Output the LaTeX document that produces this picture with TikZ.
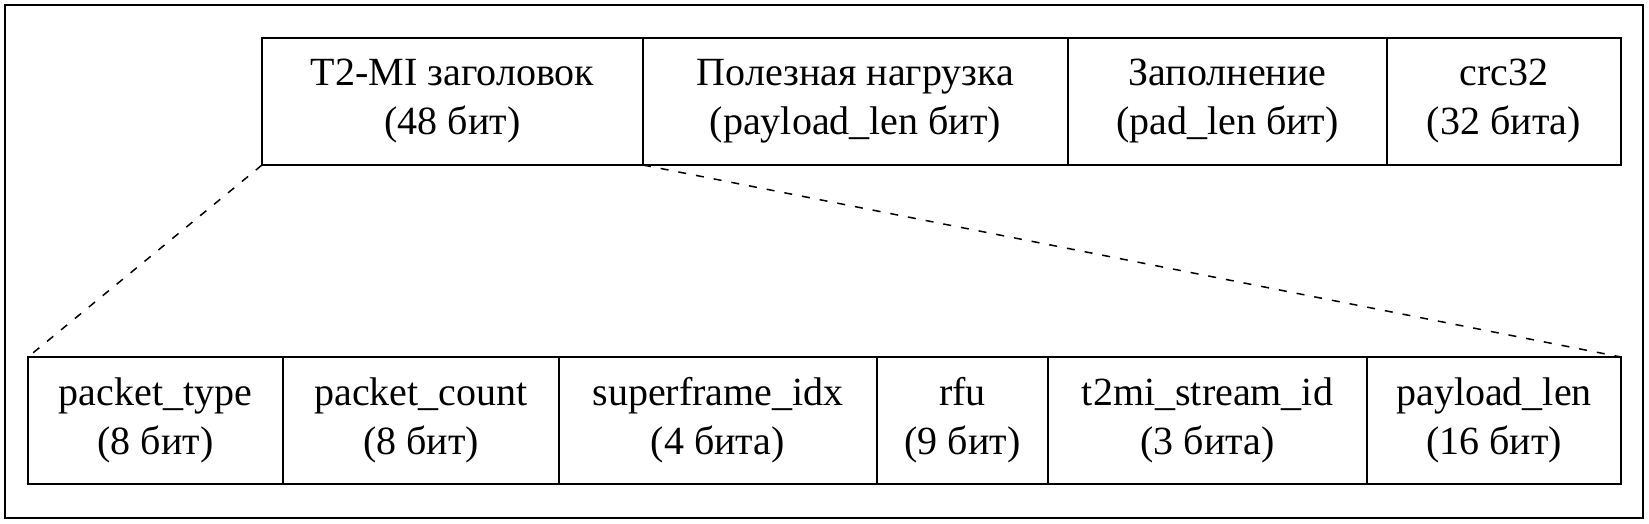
\documentclass[tikz,border=0pt]{standalone}
\usepackage{fontspec}
\setmainfont{Liberation Serif}
\usepackage{tikz}
\tikzset{field/.style={draw=black, line width=2pt, inner sep=0pt, outer sep=0pt,
    minimum height=127pt, align=center, font=\fontsize{40}{49}\selectfont}}
\tikzset{zoomline/.style={line width=1.5pt, dash pattern=on 8pt off 10pt}}

\begin{document}
\begin{tikzpicture}[x=1pt,y=-1pt]

    \useasboundingbox (0,0) rectangle (1649,524);
    \draw[line width=1.5pt] (5,5) rectangle (1643,518);

    % T2-MI packet
    \node[field, minimum width=381pt] (hdr) at (452.5,101.5) {T2-MI заголовок\\(48 бит)};
    \node[field, minimum width=425pt] (pay) at (855.5,101.5) {Полезная нагрузка\\(payload\_len бит)};
    \node[field, minimum width=319pt] (pad) at (1227.5,101.5) {Заполнение\\(pad\_len бит)};
    \node[field, minimum width=234pt] (crc) at (1504,101.5) {crc32\\(32 бита)};

    % header fields
    \node[field, minimum width=255pt] (ptype) at (155.5,420.5) {packet\_type\\(8 бит)};
    \node[field, minimum width=276pt] (pcount) at (421,420.5) {packet\_count\\(8 бит)};
    \node[field, minimum width=318pt] (sfidx) at (718,420.5) {superframe\_idx\\(4 бита)};
    \node[field, minimum width=171pt] (rfu) at (962.5,420.5) {rfu\\(9 бит)};
    \node[field, minimum width=319pt] (sid) at (1207.5,420.5) {t2mi\_stream\_id\\(3 бита)};
    \node[field, minimum width=254pt] (plen) at (1494,420.5) {payload\_len\\(16 бит)};

    \draw[zoomline] (hdr.south west) -- (ptype.north west);
    \draw[zoomline] (hdr.south east) -- (plen.north east);

\end{tikzpicture}
\end{document}
